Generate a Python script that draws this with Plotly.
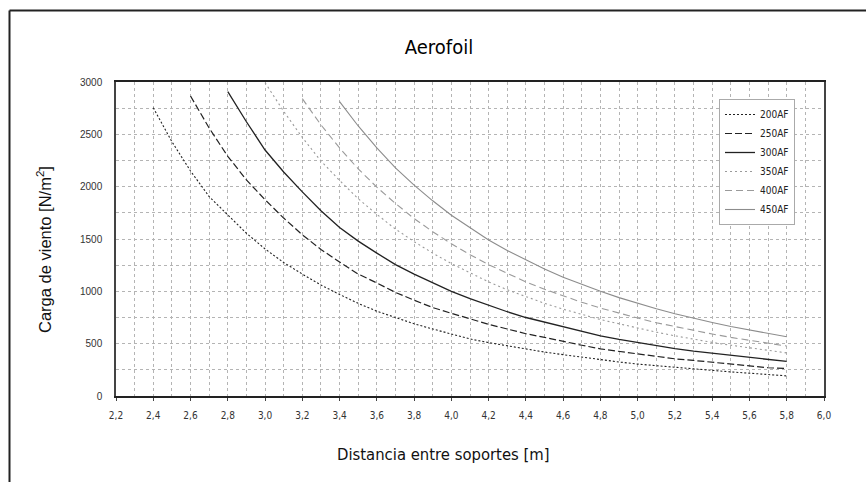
import plotly.graph_objects as go

series_names = ["200AF", "250AF", "300AF", "350AF", "400AF", "450AF"]

x_200 = [2.4, 2.5, 2.6, 2.7, 2.8, 2.9, 3.0, 3.1, 3.2, 3.3, 3.4, 3.5, 3.6, 3.7, 3.8, 3.9, 4.0, 4.1, 4.2, 4.3, 4.4, 4.5, 4.6, 4.7, 4.8, 4.9, 5.0, 5.1, 5.2, 5.3, 5.4, 5.5, 5.6, 5.7, 5.8]
y_200 = [2755, 2430, 2150, 1905, 1730, 1555, 1405, 1275, 1165, 1060, 970, 885, 810, 750, 690, 640, 590, 545, 510, 478, 450, 420, 395, 370, 345, 325, 305, 290, 272, 255, 242, 230, 218, 205, 192]

x_250 = [2.6, 2.7, 2.8, 2.9, 3.0, 3.1, 3.2, 3.3, 3.4, 3.5, 3.6, 3.7, 3.8, 3.9, 4.0, 4.1, 4.2, 4.3, 4.4, 4.5, 4.6, 4.7, 4.8, 4.9, 5.0, 5.1, 5.2, 5.3, 5.4, 5.5, 5.6, 5.7, 5.8]
y_250 = [2866, 2560, 2290, 2065, 1875, 1700, 1540, 1400, 1280, 1165, 1080, 990, 915, 845, 790, 735, 685, 640, 595, 560, 520, 485, 450, 425, 400, 378, 355, 340, 322, 300, 285, 270, 262]

x_300 = [2.8, 2.9, 3.0, 3.1, 3.2, 3.3, 3.4, 3.5, 3.6, 3.7, 3.8, 3.9, 4.0, 4.1, 4.2, 4.3, 4.4, 4.5, 4.6, 4.7, 4.8, 4.9, 5.0, 5.1, 5.2, 5.3, 5.4, 5.5, 5.6, 5.7, 5.8]
y_300 = [2908, 2620, 2350, 2140, 1950, 1770, 1610, 1480, 1365, 1255, 1165, 1080, 1000, 930, 865, 805, 750, 705, 660, 615, 575, 540, 510, 480, 452, 428, 408, 388, 368, 348, 330]

x_350 = [3.0, 3.1, 3.2, 3.3, 3.4, 3.5, 3.6, 3.7, 3.8, 3.9, 4.0, 4.1, 4.2, 4.3, 4.4, 4.5, 4.6, 4.7, 4.8, 4.9, 5.0, 5.1, 5.2, 5.3, 5.4, 5.5, 5.6, 5.7, 5.8]
y_350 = [2994, 2720, 2470, 2245, 2060, 1885, 1735, 1595, 1475, 1365, 1265, 1175, 1090, 1015, 950, 885, 830, 780, 730, 690, 648, 610, 575, 542, 512, 485, 460, 435, 412]

x_400 = [3.2, 3.3, 3.4, 3.5, 3.6, 3.7, 3.8, 3.9, 4.0, 4.1, 4.2, 4.3, 4.4, 4.5, 4.6, 4.7, 4.8, 4.9, 5.0, 5.1, 5.2, 5.3, 5.4, 5.5, 5.6, 5.7, 5.8]
y_400 = [2841, 2590, 2370, 2170, 1995, 1840, 1695, 1570, 1455, 1350, 1255, 1170, 1090, 1020, 955, 895, 840, 790, 745, 700, 662, 625, 592, 560, 530, 502, 477]

x_450 = [3.4, 3.5, 3.6, 3.7, 3.8, 3.9, 4.0, 4.1, 4.2, 4.3, 4.4, 4.5, 4.6, 4.7, 4.8, 4.9, 5.0, 5.1, 5.2, 5.3, 5.4, 5.5, 5.6, 5.7, 5.8]
y_450 = [2812, 2580, 2370, 2180, 2015, 1865, 1727, 1605, 1490, 1390, 1298, 1213, 1135, 1065, 1000, 940, 884, 833, 786, 742, 702, 664, 629, 597, 566]

title_text = "Aerofoil"
x_title = "Distancia entre soportes [m]"
y_title = "Carga de viento [N/m<sup>2</sup>]"

xs = [x_200, x_250, x_300, x_350, x_400, x_450]
ys = [y_200, y_250, y_300, y_350, y_400, y_450]
colors = ["#222222", "#222222", "#222222", "#9a9a9a", "#9a9a9a", "#8c8c8c"]
dashes = ["2px,2px", "7px,3px", "solid", "2px,3px", "7px,4px", "solid"]
widths = [1.1, 1.2, 1.3, 1.1, 1.1, 1.1]

NARROW = "DejaVu Sans Condensed, Liberation Sans Narrow, Liberation Sans, Arial"

fig = go.Figure()
for name, x, y, c, d, w in zip(series_names, xs, ys, colors, dashes, widths):
    fig.add_trace(go.Scatter(x=x, y=y, mode="lines", name=name,
                             line=dict(color=c, dash=d, width=w)))

W, H = 866, 482
L, R, T, B = 116, 42, 82, 86
pw, ph = W - L - R, H - T - B

def px_to_paper_x(px):
    return (px - L) / pw

def px_to_paper_y(py):
    return (H - B - py) / ph

GRID = dict(showgrid=True, gridcolor="#b4b4b4", griddash="3px,3px", gridwidth=1)

fig.update_layout(
    width=W, height=H,
    margin=dict(l=L, r=R, t=T, b=B, autoexpand=False),
    paper_bgcolor="white", plot_bgcolor="white",
    separators=", ",
    font=dict(family="Liberation Sans, Arial, sans-serif", color="#222", size=10),
    title=dict(text=title_text, x=439 / W, xanchor="center", y=1 - 47 / H, yanchor="middle",
               font=dict(family=NARROW, size=20, color="#000")),
    showlegend=True,
    legend=dict(x=px_to_paper_x(719), y=px_to_paper_y(99), xanchor="left", yanchor="top",
                bgcolor="white", bordercolor="#aaaaaa", borderwidth=1,
                font=dict(size=10, color="#222", family=NARROW),
                tracegroupgap=0, itemwidth=30),
    xaxis=dict(range=[2.2, 6.0], dtick=0.2, tick0=2.2, tickformat=".1f",
               showline=True, linecolor="#222", linewidth=1.5, mirror=True,
               ticks="outside", ticklen=3, tickcolor="#444", ticklabelstandoff=6,
               minor=dict(dtick=0.1, tick0=2.2, **GRID),
               zeroline=False,
               tickfont=dict(size=10, color="#333", family=NARROW),
               **GRID),
    yaxis=dict(range=[0, 3000], dtick=500, tick0=0,
               showline=True, linecolor="#444", linewidth=1.5, mirror=True,
               ticks="", ticklabelstandoff=10,
               minor=dict(dtick=250, tick0=0, **GRID),
               zeroline=False,
               tickfont=dict(size=10, color="#333"),
               **GRID),
    annotations=[
        dict(text=x_title, xref="paper", yref="paper",
             x=px_to_paper_x(443), y=px_to_paper_y(454), xanchor="center", yanchor="middle",
             showarrow=False, font=dict(size=16.5, color="#111", family=NARROW)),
        dict(text=y_title, xref="paper", yref="paper", textangle=-90,
             x=px_to_paper_x(44), y=px_to_paper_y(250), xanchor="center", yanchor="middle",
             showarrow=False, font=dict(size=16.5, color="#111")),
    ],
    shapes=[
        dict(type="line", xref="paper", yref="paper",
             x0=px_to_paper_x(9.5), x1=px_to_paper_x(W + 5),
             y0=px_to_paper_y(10.5), y1=px_to_paper_y(10.5),
             line=dict(color="#222", width=2)),
        dict(type="line", xref="paper", yref="paper",
             x0=px_to_paper_x(9.5), x1=px_to_paper_x(9.5),
             y0=px_to_paper_y(10.5), y1=px_to_paper_y(H + 5),
             line=dict(color="#222", width=2)),
    ],
)

fig.write_html("out.html")
